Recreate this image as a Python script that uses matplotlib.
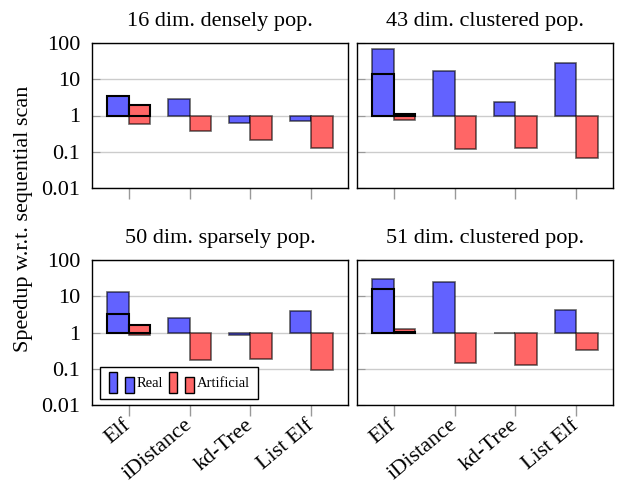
import numpy as np
import matplotlib
matplotlib.use("Agg")
import matplotlib.pyplot as plt
from matplotlib.patches import Rectangle
from matplotlib.legend_handler import HandlerBase
from matplotlib.ticker import LogLocator, FixedLocator, NullFormatter

plt.rcParams['font.family'] = ['Liberation Serif', 'DejaVu Serif']

# --- data (speedup w.r.t. sequential scan) ---
methods = ["Elf", "iDistance", "kd-Tree", "List Elf"]
titles = ["16 dim. densely pop.", "43 dim. clustered pop.",
          "50 dim. sparsely pop.", "51 dim. clustered pop."]
real = [[3.4, 2.78, 0.61, 0.70],
        [69.0, 16.7, 2.4, 27.2],
        [12.9, 2.48, 0.86, 3.8],
        [30.7, 25.4, 0.95, 4.3]]
real_elf2 = [3.4, 14.4, 3.2, 16.0]
art = [[0.60, 0.375, 0.21, 0.126],
       [0.76, 0.119, 0.126, 0.068],
       [0.88, 0.173, 0.19, 0.092],
       [1.23, 0.14, 0.129, 0.325]]
art_elf2 = [1.93, 1.09, 1.56, 1.05]
yticks = [0.01, 0.1, 1, 10, 100]
ytick_labels = ["0.01", "0.1", "1", "10", "100"]

BLUE = "#6262ff"
RED = "#ff6666"
EDGE = (0, 0, 0, 0.6)
W = 0.35
FS = 16


class TwoBars(HandlerBase):
    # pgfplots-style ybar legend image: two small bars
    def create_artists(self, legend, orig_handle, xdescent, ydescent,
                       width, height, fontsize, trans):
        fc = orig_handle.get_facecolor()
        bw = width * 0.34
        y0 = -ydescent - 0.3 * height
        r1 = Rectangle((-xdescent, y0), bw, 1.6 * height,
                       facecolor=fc, edgecolor='black', lw=1.0, transform=trans)
        r2 = Rectangle((-xdescent + 0.66 * width, y0), bw, 1.25 * height,
                       facecolor=fc, edgecolor='black', lw=1.0, transform=trans)
        return [r1, r2]


fig = plt.figure(figsize=(6.23, 4.83), dpi=100)
W_ax = 256 / 623
H_ax = 145 / 483
positions = [(92 / 623, 1 - 188 / 483), (357 / 623, 1 - 188 / 483),
             (92 / 623, 1 - 405 / 483), (357 / 623, 1 - 405 / 483)]

x = np.arange(len(methods))
for i, (l, b) in enumerate(positions):
    ax = fig.add_axes([l, b, W_ax, H_ax])
    ax.set_yscale('log')
    ax.set_ylim(0.01, 100)
    ax.set_xlim(-0.6, 3.6)

    rv = np.array(real[i])
    av = np.array(art[i])
    hb = ax.bar(x - W / 2, rv - 1, bottom=1, width=W, color=BLUE,
                edgecolor=EDGE, lw=1.2, zorder=3)
    hr = ax.bar(x + W / 2, av - 1, bottom=1, width=W, color=RED,
                edgecolor=EDGE, lw=1.2, zorder=3)
    ax.bar(x[0] - W / 2, real_elf2[i] - 1, bottom=1, width=W, color=BLUE,
           edgecolor='black', lw=1.5, zorder=4)
    ax.bar(x[0] + W / 2, art_elf2[i] - 1, bottom=1, width=W, color=RED,
           edgecolor='black', lw=1.5, zorder=4)

    ax.yaxis.set_major_locator(FixedLocator(yticks))
    ax.yaxis.set_minor_locator(LogLocator(base=10, subs=np.arange(2, 10)))
    ax.yaxis.set_minor_formatter(NullFormatter())
    ax.grid(axis='y', which='major', color='#cccccc', lw=1.0, zorder=0)
    ax.tick_params(axis='y', which='both', direction='in', color='#999999',
                   left=True, right=False)
    ax.tick_params(axis='y', which='major', length=6, labelsize=FS, pad=8.5)
    ax.tick_params(axis='y', which='minor', length=4)
    if i % 2 == 0:
        ax.set_yticklabels(ytick_labels)
    else:
        ax.set_yticklabels([])

    ax.set_xticks(x)
    ax.tick_params(axis='x', direction='out', length=8, color='#999999',
                   width=1.0, top=False, labelsize=FS, pad=5)
    if i >= 2:
        ax.set_xticklabels(methods, rotation=40, ha='right', va='center',
                           rotation_mode='anchor')
    else:
        ax.set_xticklabels([])

    for s in ax.spines.values():
        s.set_linewidth(1.0)
        s.set_color('black')
    ax.set_title(titles[i], fontsize=FS, pad=12)

    if i == 2:
        pb, pr = hb.patches[0], hr.patches[0]
        ax.legend([pb, pr], ["Real", "Artificial"], loc='lower left',
                  bbox_to_anchor=(0.02, 0.02),
                  handler_map={Rectangle: TwoBars()},
                  ncol=2, fontsize=10.5, frameon=True, fancybox=False,
                  edgecolor='black', framealpha=1, handlelength=1.7,
                  handleheight=1.0, columnspacing=0.4, handletextpad=0.2,
                  borderpad=0.6, borderaxespad=0.2)

fig.text(0.037, 1 - 219 / 483, "Speedup w.r.t. sequential scan", rotation=90,
         ha='center', va='center', fontsize=FS)

fig.savefig("out.png", dpi=100)
